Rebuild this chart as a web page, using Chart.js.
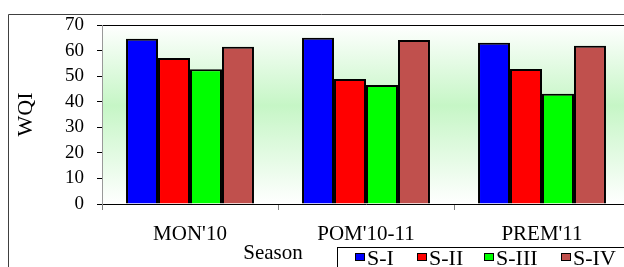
<!DOCTYPE html>
<html><head><meta charset="utf-8">
<script src="https://cdn.jsdelivr.net/npm/chart.js@4.4.1/dist/chart.umd.min.js"></script>
<style>
html,body{margin:0;padding:0;background:#fff;overflow:hidden;width:624px;height:267px}
#wrap{position:absolute;left:0;top:0;width:634px;height:267px}
</style></head><body>
<div id="wrap"><canvas id="c" width="634" height="267"></canvas></div>
<script>
const categories = ["MON'10", "POM'10-11", "PREM'11"];
const seriesNames = ["S-I", "S-II", "S-III", "S-IV"];
const s1 = [64.6, 65.0, 63.1];
const s2 = [57.1, 48.9, 52.8];
const s3 = [52.7, 46.5, 43.1];
const s4 = [61.5, 64.1, 61.9];
const colors = ["#0000FF", "#FF0000", "#00FF00", "#C0504D"];
const yTicks = [0, 10, 20, 30, 40, 50, 60, 70];
const yTitle = "WQI";
const xTitle = "Season";
const SERIF = "'Liberation Serif','Times New Roman',serif";

const decor = {
  id: 'decor',
  beforeDraw(chart) {
    const ctx = chart.ctx, a = chart.chartArea;
    ctx.save();
    const g = ctx.createLinearGradient(0, a.top, 0, a.bottom);
    g.addColorStop(0, '#ffffff');
    g.addColorStop(0.45, '#c6f6c6');
    g.addColorStop(1, '#ffffff');
    ctx.fillStyle = g;
    ctx.fillRect(a.left, a.top, a.right - a.left, a.bottom - a.top);
    ctx.strokeStyle = '#404040';
    ctx.lineWidth = 1;
    ctx.beginPath();
    ctx.moveTo(8.5, 300); ctx.lineTo(8.5, 14.5); ctx.lineTo(700, 14.5);
    ctx.stroke();
    ctx.strokeStyle = '#000';
    ctx.beginPath();
    ctx.moveTo(a.left, a.top + 0.5); ctx.lineTo(a.right, a.top + 0.5);
    ctx.stroke();
    ctx.restore();
  },
  afterDraw(chart) {
    const ctx = chart.ctx;
    ctx.save();
    ctx.fillStyle = '#000';
    ctx.font = '21px ' + SERIF;
    ctx.textAlign = 'center';
    ctx.textBaseline = 'middle';
    ctx.fillText(xTitle, 273, 253);
    ctx.fillStyle = '#fff';
    ctx.fillRect(337, 247, 300, 30);
    ctx.strokeStyle = '#000';
    ctx.lineWidth = 1;
    ctx.strokeRect(337.5, 247.5, 300, 30);
    const xs = [355, 417, 484, 561];
    ctx.textAlign = 'left';
    ctx.font = '22px ' + SERIF;
    chart.data.datasets.forEach((ds, i) => {
      ctx.fillStyle = ds.backgroundColor;
      ctx.fillRect(xs[i], 253, 10, 8);
      ctx.strokeStyle = '#000';
      ctx.strokeRect(xs[i] + 0.5, 253.5, 9, 7);
      ctx.fillStyle = '#000';
      ctx.fillText(ds.label, xs[i] + 12, 259);
    });
    ctx.restore();
  }
};

new Chart(document.getElementById('c'), {
  type: 'bar',
  data: {
    labels: categories,
    datasets: [s1, s2, s3, s4].map((d, i) => ({
      label: seriesNames[i], data: d, backgroundColor: colors[i],
      borderColor: '#000', borderWidth: 2,
      categoryPercentage: 0.727, barPercentage: 1.0
    }))
  },
  options: {
    responsive: false, animation: false,
    devicePixelRatio: 1,
    layout: { padding: { left: 0, top: 25, right: 4, bottom: 0 } },
    plugins: { legend: { display: false }, tooltip: { enabled: false } },
    scales: {
      x: {
        afterFit(s) { s.height = 63; },
        grid: { offset: true, drawOnChartArea: false, drawTicks: true, tickLength: 6, color: '#808080' },
        border: { color: '#000', width: 1 },
        ticks: { color: '#000', font: { family: SERIF, size: 21 }, padding: 12, maxRotation: 0, autoSkip: false }
      },
      y: {
        min: 0, max: 70,
        afterFit(s) { s.width = 102; },
        afterBuildTicks(s) { s.ticks = yTicks.map(v => ({ value: v })); },
        grid: { drawOnChartArea: false, drawTicks: true, tickLength: 5, color: '#000' },
        border: { color: '#999', width: 1 },
        ticks: { color: '#000', font: { family: SERIF, size: 19 }, padding: 13, autoSkip: false },
        title: { display: true, text: yTitle, color: '#000', font: { family: SERIF, size: 22 }, padding: { top: 13, bottom: 0 } }
      }
    }
  },
  plugins: [decor]
});
</script>
</body></html>
